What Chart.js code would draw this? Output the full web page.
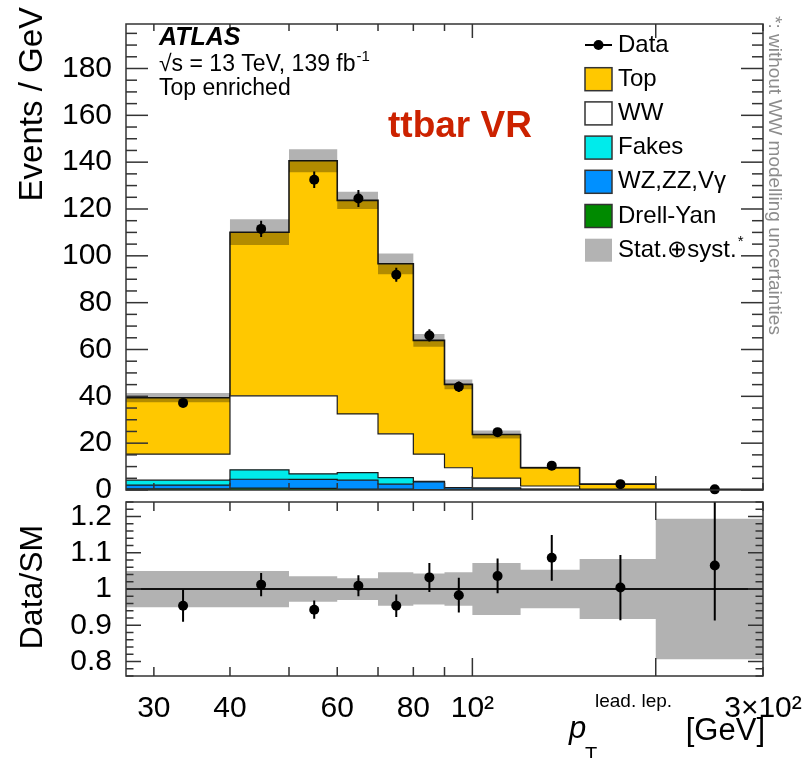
<!DOCTYPE html>
<html>
<head>
<meta charset="utf-8">
<script src="https://cdn.jsdelivr.net/npm/chart.js@4.4.1/dist/chart.umd.min.js"></script>
<style>
  html, body { margin: 0; padding: 0; background: #fff; }
  #wrap { position: relative; width: 810px; height: 758px; }
  #wrap canvas { position: absolute; left: 0; top: 0; }
</style>
</head>
<body>
<div id="wrap">
  <canvas id="mainChart" width="810" height="758"></canvas>
  <canvas id="ratioChart" width="810" height="758"></canvas>
</div>
<script>
// ----------------------------------------
// leading-lepton pT distribution, top enriched region
// ----------------------------------------

// bin edges and centres [GeV]
const binEdges = [27, 40, 50, 60, 70, 80, 90, 100, 120, 150, 200, 300];
const binCenters = [33.5, 45, 55, 65, 75, 85, 95, 110, 135, 175, 250];

// background processes, events / GeV (stack order bottom -> top)
const drellYan = [0.5, 0.8, 0.7, 0.4, 0.4, 0.1, 0.1, 0.05, 0.02, 0.01, 0.0];
const wzZzVgamma = [1.6, 3.8, 3.8, 3.8, 2.1, 3.4, 0.8, 0.75, 0.3, 0.1, 0.02];
const fakes = [2.1, 4.0, 2.4, 3.2, 2.8, 0.2, 0.1, 0.05, 0.03, 0.01, 0.0];
const ww = [11.1, 31.6, 33.3, 25.1, 18.7, 11.6, 8.5, 4.25, 1.35, 0.3, 0.05];
const topQuark = [24.1, 69.9, 100.4, 91.2, 72.6, 48.6, 35.6, 18.6, 7.8, 2.1, 0.18];

// relative stat+syst uncertainty of the prediction
const mcUnc = [0.05, 0.05, 0.035, 0.03, 0.046, 0.043, 0.046, 0.072, 0.053, 0.083, 0.194];

// data
const dataEvents = [37.2, 111.5, 132.5, 124.5, 91.9, 66.0, 44.1, 24.7, 10.4, 2.5, 0.27];
const dataErr = [1.7, 3.5, 3.5, 3.6, 3.0, 2.6, 2.2, 1.1, 0.6, 0.23, 0.05];

// data / SM
const ratioVals = [0.954, 1.012, 0.943, 1.009, 0.954, 1.032, 0.983, 1.036, 1.086, 1.004, 1.065];
const ratioErrUp = [0.044, 0.032, 0.025, 0.029, 0.031, 0.04, 0.048, 0.048, 0.063, 0.09, 0.22];
const ratioErrDown = [0.044, 0.032, 0.025, 0.029, 0.031, 0.04, 0.048, 0.048, 0.063, 0.09, 0.152];

// axes
const xFrameTicks = [30, 40, 50, 60, 70, 80, 90, 100, 200, 300];
const xLongTicks = [100, 200];
const xLabelVals = [30, 40, 60, 80, 100, 300];
const xLabelText = ['30', '40', '60', '80', '10²', '3×10²'];
const yMainTicks = [0, 20, 40, 60, 80, 100, 120, 140, 160, 180];
const yRatioTicks = [0.8, 0.9, 1.0, 1.1, 1.2];
const yRatioLabels = ['0.8', '0.9', '1', '1.1', '1.2'];

const legendRows = ['Data', 'Top', 'WW', 'Fakes', 'WZ,ZZ,Vγ', 'Drell-Yan', 'Stat.⊕syst.'];

const FONT = "'Liberation Sans', Arial, Helvetica, sans-serif";
Chart.defaults.font.family = FONT;
Chart.defaults.color = '#000';

// ========================================
// helpers
// ========================================

// histogram as step points: one point per lower edge plus the last upper edge
function histPoints(values) {
    return binEdges.map((e, i) => ({ x: e, y: values[Math.min(i, values.length - 1)] }));
}

// vertical error bars as line pieces separated by gaps
function errorBarPoints(xs, ys, up, down) {
    const pts = [];
    xs.forEach((x, i) => {
        pts.push({ x: x, y: ys[i] - down[i] }, { x: x, y: ys[i] + up[i] }, { x: x, y: null });
    });
    return pts;
}

const mcTotal = binCenters.map((_, i) => drellYan[i] + wzZzVgamma[i] + fakes[i] + ww[i] + topQuark[i]);

// stacked component; dataset index decides the stacking order
function histDataset(label, values, color, fill, width) {
    return {
        label: label,
        data: histPoints(values),
        stepped: 'before',
        fill: fill,
        backgroundColor: color,
        borderColor: '#1a1a1a',
        borderWidth: width || 1.2,
        pointRadius: 0
    };
}

// frame with inward ticks on all four sides
const frameTicks = {
    id: 'frameTicks',
    afterDraw(chart, args, opts) {
        const { ctx, chartArea: a, scales } = chart;
        ctx.save();
        ctx.strokeStyle = '#333';
        ctx.lineWidth = 1.5;
        const seg = (x1, y1, x2, y2) => {
            ctx.beginPath();
            ctx.moveTo(x1, y1);
            ctx.lineTo(x2, y2);
            ctx.stroke();
        };
        xFrameTicks.forEach(v => {
            const px = scales.x.getPixelForValue(v);
            const len = xLongTicks.includes(v) ? opts.xLong : opts.xShort;
            seg(px, a.bottom, px, a.bottom - len);
            seg(px, a.top, px, a.top + len);
        });
        const y = scales.y;
        const k0 = Math.ceil(y.min / opts.yMinor - 1e-6);
        for (let k = k0; k * opts.yMinor <= y.max + 1e-6; k++) {
            const v = k * opts.yMinor;
            const r = v / opts.yMajor;
            const len = Math.abs(r - Math.round(r)) < 1e-6 ? opts.yLong : opts.yShort;
            const py = y.getPixelForValue(v);
            seg(a.left, py, a.left + len, py);
            seg(a.right, py, a.right - len, py);
        }
        ctx.strokeRect(a.left, a.top, a.right - a.left, a.bottom - a.top);
        ctx.restore();
    }
};

// labels, legend and axis title of the upper panel
const mainText = {
    id: 'mainText',
    afterDraw(chart) {
        const ctx = chart.ctx;
        ctx.save();
        ctx.fillStyle = '#000';
        ctx.textBaseline = 'alphabetic';

        ctx.font = 'italic bold 25px ' + FONT;
        ctx.fillText('ATLAS', 159, 45);
        ctx.font = '23px ' + FONT;
        const lumi = '√s = 13 TeV, 139 fb';
        ctx.fillText(lumi, 159, 71);
        const w = ctx.measureText(lumi).width;
        ctx.font = '15px ' + FONT;
        ctx.fillText('-1', 159 + w + 1, 61);
        ctx.font = '23px ' + FONT;
        ctx.fillText('Top enriched', 159, 95);

        ctx.font = 'bold 37px ' + FONT;
        ctx.fillStyle = '#cc2200';
        ctx.fillText('ttbar VR', 388, 137);

        // legend
        ctx.font = '24px ' + FONT;
        ctx.textBaseline = 'middle';
        legendRows.forEach((name, i) => {
            const yc = 45 + 34.2 * i;
            const ds = chart.data.datasets.find(d => d.label === name);
            if (name === 'Data') {
                ctx.strokeStyle = '#000';
                ctx.lineWidth = 2;
                ctx.beginPath();
                ctx.moveTo(585, yc);
                ctx.lineTo(612, yc);
                ctx.stroke();
                ctx.fillStyle = '#000';
                ctx.beginPath();
                ctx.arc(598.5, yc, 5, 0, Math.PI * 2);
                ctx.fill();
            } else if (name.startsWith('Stat')) {
                ctx.fillStyle = '#b3b3b3';
                ctx.fillRect(585, yc - 11.5, 27, 23);
            } else {
                ctx.fillStyle = ds.backgroundColor;
                ctx.fillRect(585, yc - 11.5, 27, 23);
                ctx.strokeStyle = '#333';
                ctx.lineWidth = 1.5;
                ctx.strokeRect(585, yc - 11.5, 27, 23);
            }
            ctx.fillStyle = '#000';
            ctx.font = '24px ' + FONT;
            ctx.fillText(name, 618, yc);
            if (name.startsWith('Stat')) {
                const tw = ctx.measureText(name).width;
                ctx.font = '15px ' + FONT;
                ctx.fillText('*', 618 + tw + 1, yc - 8);
            }
        });

        // side note
        ctx.save();
        ctx.translate(769, 16);
        ctx.rotate(Math.PI / 2);
        ctx.font = '19px ' + FONT;
        ctx.fillStyle = '#8c8c8c';
        ctx.textBaseline = 'alphabetic';
        ctx.textAlign = 'left';
        ctx.fillText('*: without WW modelling uncertainties', 0, 0);
        ctx.restore();

        // y title
        ctx.save();
        ctx.translate(42, 7);
        ctx.rotate(-Math.PI / 2);
        ctx.font = '33px ' + FONT;
        ctx.fillStyle = '#000';
        ctx.textBaseline = 'alphabetic';
        ctx.textAlign = 'right';
        ctx.fillText('Events / GeV', 0, 0);
        ctx.restore();

        ctx.restore();
    }
};

const ratioText = {
    id: 'ratioText',
    afterDraw(chart) {
        const ctx = chart.ctx;
        ctx.save();
        ctx.fillStyle = '#000';
        ctx.textBaseline = 'alphabetic';

        ctx.save();
        ctx.translate(42, 587);
        ctx.rotate(-Math.PI / 2);
        ctx.font = '32px ' + FONT;
        ctx.textAlign = 'center';
        ctx.fillText('Data/SM', 0, 0);
        ctx.restore();

        // x title: pT^{lead. lep.} [GeV]
        ctx.font = 'italic 31px ' + FONT;
        ctx.fillText('p', 569, 738);
        ctx.font = '19px ' + FONT;
        ctx.fillText('lead. lep.', 595, 707);
        ctx.font = '20px ' + FONT;
        ctx.fillText('T', 585, 761);
        ctx.font = '31px ' + FONT;
        ctx.textAlign = 'right';
        ctx.fillText('[GeV]', 765, 740);
        ctx.restore();
    }
};

// ========================================
// upper panel: stacked prediction and data
// ========================================

const mainChart = new Chart(document.getElementById('mainChart'), {
    type: 'line',
    data: {
        datasets: [
            histDataset('Drell-Yan', drellYan, '#008a00', 'origin'),
            histDataset('WZ,ZZ,Vγ', wzZzVgamma, '#0090ff', '-1'),
            histDataset('Fakes', fakes, '#00ebeb', '-1'),
            histDataset('WW', ww, '#ffffff', '-1'),
            histDataset('Top', topQuark, '#ffc800', '-1', 1.6),
            {
                label: 'band-low',
                data: histPoints(mcTotal.map((t, i) => t * (1 - mcUnc[i]))),
                stepped: 'before',
                stack: 'band-low',
                borderWidth: 0,
                pointRadius: 0,
                fill: false,
                order: -1
            },
            {
                label: 'Stat.⊕syst.',
                data: histPoints(mcTotal.map((t, i) => t * (1 + mcUnc[i]))),
                stepped: 'before',
                stack: 'band-high',
                borderWidth: 0,
                pointRadius: 0,
                fill: '-1',
                backgroundColor: 'rgba(0, 0, 0, 0.3)',
                order: -1
            },
            {
                label: 'data-err',
                data: errorBarPoints(binCenters, dataEvents, dataErr, dataErr),
                stack: 'data-err',
                borderColor: '#000',
                borderWidth: 2,
                pointRadius: 0,
                fill: false,
                spanGaps: false,
                order: -2
            },
            {
                label: 'Data',
                data: binCenters.map((x, i) => ({ x: x, y: dataEvents[i] })),
                stack: 'data',
                showLine: false,
                pointRadius: 5,
                pointBackgroundColor: '#000',
                pointBorderWidth: 0,
                clip: false,
                order: -3
            }
        ]
    },
    options: {
        responsive: false,
        animation: false,
        layout: { padding: { left: 0, top: 15, right: 47, bottom: 268 } },
        plugins: {
            legend: { display: false },
            tooltip: { enabled: false },
            frameTicks: { xLong: 14, xShort: 7, yMinor: 5, yMajor: 20, yLong: 22, yShort: 11 }
        },
        scales: {
            x: { type: 'logarithmic', min: 27, max: 300, display: false },
            y: {
                stacked: true,
                min: 0,
                max: 199,
                afterFit: s => { s.width = 126; },
                afterBuildTicks: s => { s.ticks = yMainTicks.map(v => ({ value: v })); },
                grid: { display: false },
                border: { display: false },
                ticks: { font: { size: 30 }, padding: 6, autoSkip: false, callback: v => String(v) }
            }
        }
    },
    plugins: [frameTicks, mainText]
});

// ========================================
// lower panel: data / SM
// ========================================

const ratioChart = new Chart(document.getElementById('ratioChart'), {
    type: 'line',
    data: {
        datasets: [
            {
                label: 'unc-low',
                data: histPoints(mcUnc.map(u => 1 - u)),
                stepped: 'before',
                borderWidth: 0,
                pointRadius: 0,
                fill: false,
                order: 5
            },
            {
                label: 'unc-high',
                data: histPoints(mcUnc.map(u => 1 + u)),
                stepped: 'before',
                borderWidth: 0,
                pointRadius: 0,
                fill: '-1',
                backgroundColor: 'rgba(0, 0, 0, 0.3)',
                order: 4
            },
            {
                label: 'unity',
                data: [{ x: 27, y: 1 }, { x: 300, y: 1 }],
                borderColor: '#111',
                borderWidth: 2,
                pointRadius: 0,
                fill: false,
                order: 3
            },
            {
                label: 'ratio-err',
                data: errorBarPoints(binCenters, ratioVals, ratioErrUp, ratioErrDown),
                borderColor: '#000',
                borderWidth: 2,
                pointRadius: 0,
                fill: false,
                spanGaps: false,
                order: 2
            },
            {
                label: 'ratio',
                data: binCenters.map((x, i) => ({ x: x, y: ratioVals[i] })),
                showLine: false,
                pointRadius: 5,
                pointBackgroundColor: '#000',
                pointBorderWidth: 0,
                order: 1
            }
        ]
    },
    options: {
        responsive: false,
        animation: false,
        layout: { padding: { left: 0, top: 502, right: 47, bottom: 0 } },
        plugins: {
            legend: { display: false },
            tooltip: { enabled: false },
            frameTicks: { xLong: 18, xShort: 9, yMinor: 0.02, yMajor: 0.1, yLong: 15, yShort: 7.5 }
        },
        scales: {
            x: {
                type: 'logarithmic',
                min: 27,
                max: 300,
                afterFit: s => { s.height = 82; },
                afterBuildTicks: s => { s.ticks = xLabelVals.map(v => ({ value: v })); },
                grid: { display: false },
                border: { display: false },
                ticks: {
                    font: { size: 30 },
                    padding: 7,
                    autoSkip: false,
                    maxRotation: 0,
                    callback: (v, i) => xLabelText[i]
                }
            },
            y: {
                min: 0.76,
                max: 1.24,
                afterFit: s => { s.width = 126; },
                afterBuildTicks: s => { s.ticks = yRatioTicks.map(v => ({ value: v })); },
                grid: { display: false },
                border: { display: false },
                ticks: { font: { size: 30 }, padding: 6, autoSkip: false, callback: (v, i) => yRatioLabels[i] }
            }
        }
    },
    plugins: [frameTicks, ratioText]
});
</script>
</body>
</html>
